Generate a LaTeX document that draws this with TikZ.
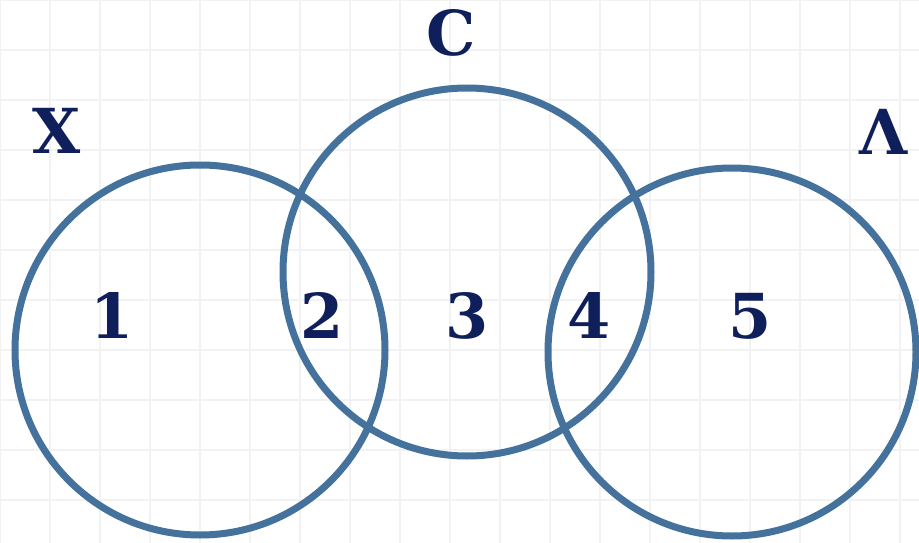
\documentclass[tikz,border=0pt]{standalone}
\usepackage{fontspec}
\setmainfont{DejaVu Serif}
\definecolor{ink}{RGB}{15,31,92}
\definecolor{ring}{RGB}{68,114,156}
\definecolor{gridc}{RGB}{242,242,242}
\begin{document}
\begin{tikzpicture}[x=1pt,y=-1pt,
  ringstyle/.style={draw=ring,line width=7pt},
  lbl/.style={text=ink,font=\fontsize{62}{64}\selectfont\bfseries,anchor=base,inner sep=0pt}]
\useasboundingbox (0,0) rectangle (919,543);
\fill[white] (0,0) rectangle (919,543);
\foreach \x in {0,50,...,900} \draw[gridc,line width=2pt] (\x,0) -- (\x,543);
\foreach \y in {0,50,...,550} \draw[gridc,line width=2pt] (0,\y) -- (919,\y);
\node[ringstyle,circle,minimum size=370pt,inner sep=0pt] (cx) at (200,350) {};
\node[ringstyle,circle,minimum size=368pt,inner sep=0pt] (cc) at (467,272) {};
\node[ringstyle,circle,minimum size=368pt,inner sep=0pt] (cl) at (732,352) {};
\node[lbl] (lx) at (57,153) {Χ};
\node[lbl] (lc) at (451,56) {C};
\node[lbl] (ll) at (884,154) {Λ};
\node[lbl] (n1) at (112,338) {1};
\node[lbl] (n2) at (322,338) {2};
\node[lbl] (n3) at (467,338) {3};
\node[lbl] (n4) at (589,338) {4};
\node[lbl] (n5) at (750,338) {5};
\end{tikzpicture}
\end{document}
